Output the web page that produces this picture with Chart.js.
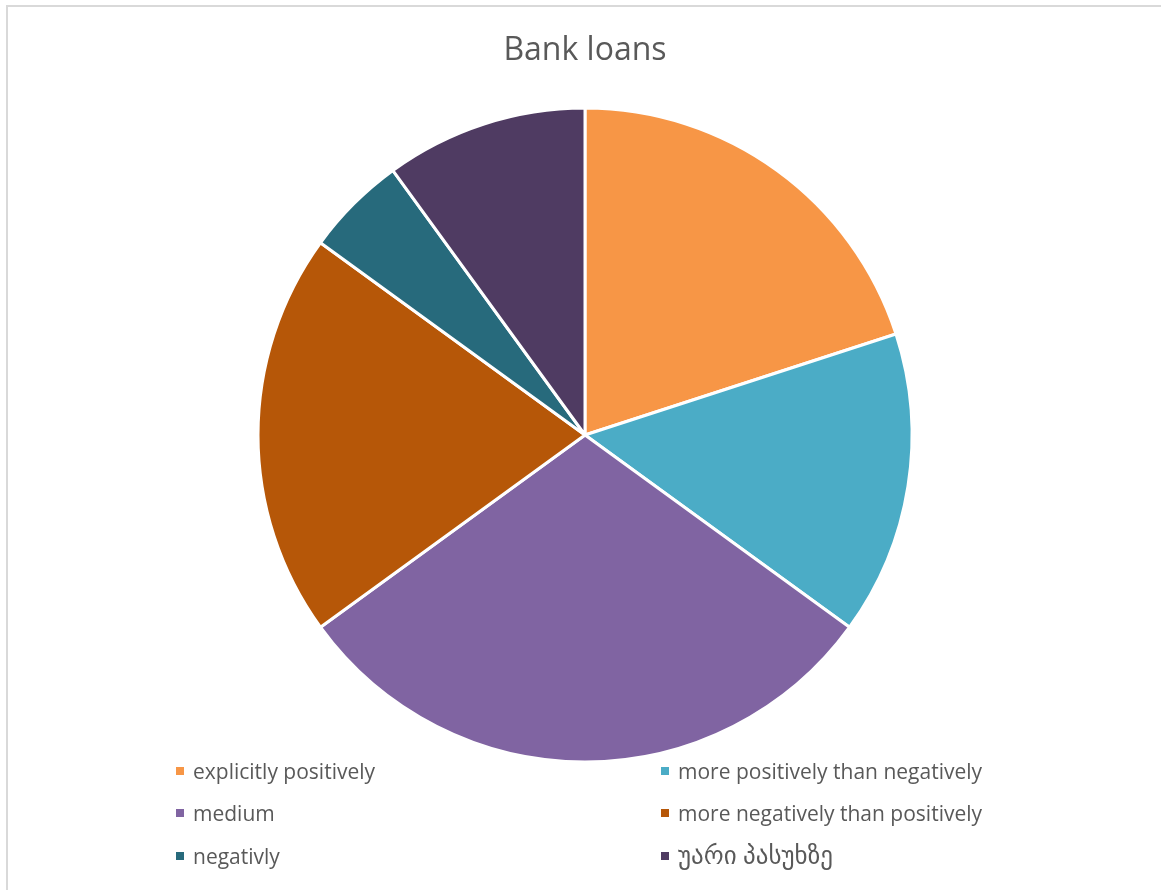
<!DOCTYPE html>
<html>
<head>
<meta charset="utf-8">
<title>Bank loans</title>
<script src="https://cdn.jsdelivr.net/npm/chart.js@4/dist/chart.umd.min.js"></script>
<style>
  html, body { margin: 0; padding: 0; background: #ffffff; overflow: hidden; }
  #wrap { position: relative; width: 1161px; height: 890px; overflow: hidden; }
  #frame {
    position: absolute; left: 6px; top: 5px; width: 1200px; height: 1000px;
    border-top: 2px solid #d9d9d9; border-left: 2px solid #d9d9d9; box-sizing: border-box;
  }
  #chart { position: absolute; left: 0; top: 0; }
  #title {
    position: absolute; left: 0; top: 28px; width: 1170px; text-align: center;
    font-family: "Open Sans", "DejaVu Sans", sans-serif; font-size: 32px; color: #595959;
    line-height: 40px;
  }
  .item {
    position: absolute; font-family: "Open Sans", "DejaVu Sans", sans-serif; font-size: 21px;
    color: #595959; line-height: 28px; white-space: nowrap;
  }
  .item .sw { position: absolute; width: 8px; height: 8px; top: 10px; left: 0; }
  .item .tx { position: absolute; left: 17px; top: 0; }
  .item .tx:lang(ka) { font-size: 25px; top: -2px; }
</style>
</head>
<body>
<div id="wrap">
  <div id="frame"></div>
  <canvas id="chart" width="1161" height="890"></canvas>
  <div id="title">Bank loans</div>
  <div id="legend"></div>
</div>
<script>
// Survey answers about bank loans (percent of respondents)
const categories = [
  "explicitly positively",
  "more positively than negatively",
  "medium",
  "more negatively than positively",
  "negativly",
  "უარი პასუხზე"
];
const shares = [20, 15, 30, 20, 5, 10];
const sliceColors = ["#F79646", "#4BACC6", "#8064A2", "#B65708", "#276A7C", "#4F3B62"];

const ctx = document.getElementById("chart");
new Chart(ctx, {
  type: "pie",
  data: {
    labels: categories,
    datasets: [{
      data: shares,
      backgroundColor: sliceColors,
      borderColor: "#ffffff",
      borderWidth: 3
    }]
  },
  options: {
    responsive: false,
    animation: false,
    radius: 327,
    layout: { padding: { top: 108, bottom: 128, left: 9, right: 0 } },
    plugins: {
      legend: { display: false },
      title: { display: false },
      tooltip: { enabled: false }
    }
  }
});

// Two-column legend below the pie, filled row by row
const legend = document.getElementById("legend");
const colX = [176, 661];
const rowY = [757, 799, 842];
categories.forEach((name, i) => {
  const item = document.createElement("div");
  item.className = "item";
  item.style.left = colX[i % 2] + "px";
  item.style.top = rowY[Math.floor(i / 2)] + "px";
  const sw = document.createElement("span");
  sw.className = "sw";
  sw.style.background = sliceColors[i];
  const tx = document.createElement("span");
  tx.className = "tx";
  if (/[\u10A0-\u10FF]/.test(name)) tx.lang = "ka";
  tx.textContent = name;
  item.appendChild(sw);
  item.appendChild(tx);
  legend.appendChild(item);
});
</script>
</body>
</html>
